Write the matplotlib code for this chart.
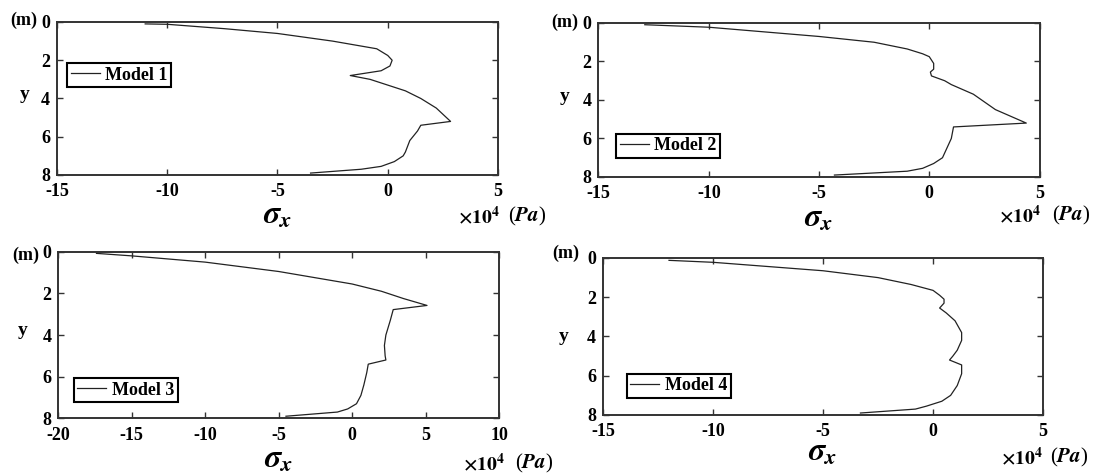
import matplotlib

matplotlib.use("Agg")

import matplotlib.pyplot as plt

# depth (m) and sigma_x (x 1e4 Pa)
Y1 = [0.1, 0.12, 0.35, 0.6, 1.0, 1.4, 1.75, 2.0, 2.3, 2.55, 2.8, 3.0, 3.3, 3.6, 4.0, 4.5, 5.2,
      5.4, 5.7, 6.2, 6.8, 7.0, 7.3, 7.55, 7.7, 7.9]
X1 = [-11.0, -10.0, -7.4, -5.0, -2.5, -0.5, 0.0, 0.2, 0.1, -0.3, -1.7, -0.8, 0.0, 0.8, 1.5, 2.2, 2.85,
      1.5, 1.35, 1.0, 0.8, 0.7, 0.3, -0.3, -1.2, -3.5]

Y2 = [0.09, 0.22, 0.7, 1.0, 1.35, 1.6, 1.75, 2.1, 2.4, 2.55, 2.75, 3.0, 3.2, 3.7, 4.5, 5.0, 5.2,
      5.4, 6.0, 6.5, 7.0, 7.3, 7.55, 7.7, 7.9]
X2 = [-12.9, -10.0, -5.0, -2.5, -1.0, -0.3, 0.0, 0.2, 0.2, 0.05, 0.1, 0.7, 1.0, 2.0, 3.0, 4.0, 4.4,
      1.1, 1.0, 0.8, 0.6, 0.2, -0.3, -1.0, -4.3]

Y3 = [0.08, 0.2, 0.5, 0.95, 1.25, 1.55, 1.9, 2.25, 2.58, 2.78, 3.3, 4.0, 4.5, 5.0, 5.2,
      5.4, 5.8, 6.4, 6.9, 7.3, 7.55, 7.7, 7.9]
X3 = [-17.4, -15.0, -10.0, -5.0, -2.5, 0.0, 2.0, 3.5, 5.1, 2.8, 2.6, 2.3, 2.2, 2.25, 2.3,
      1.1, 1.0, 0.8, 0.6, 0.3, -0.3, -1.0, -4.5]

Y4 = [0.12, 0.22, 0.65, 1.0, 1.35, 1.65, 1.9, 2.1, 2.3, 2.55, 2.8, 3.2, 3.8, 4.2, 4.7, 5.0, 5.2,
      5.45, 5.9, 6.5, 7.0, 7.3, 7.55, 7.7, 7.9]
X4 = [-12.0, -10.0, -5.0, -2.5, -1.0, 0.0, 0.3, 0.5, 0.5, 0.3, 0.6, 1.0, 1.3, 1.3, 1.1, 0.9, 0.75,
      1.3, 1.3, 1.1, 0.8, 0.4, -0.3, -0.8, -3.3]

LABELS = ["Model 1", "Model 2", "Model 3", "Model 4"]
XLIMS = [(-15, 5), (-15, 5), (-20, 10), (-15, 5)]
XTICKS = [[-15, -10, -5, 0, 5], [-15, -10, -5, 0, 5], [-20, -15, -10, -5, 0, 5, 10], [-15, -10, -5, 0, 5]]
YTICKS = [0, 2, 4, 6, 8]

plt.rcParams.update(
    {
        "font.family": ["Liberation Serif", "DejaVu Serif"],
        "font.weight": "bold",
        "mathtext.fontset": "stix",
        "axes.unicode_minus": False,
        "xtick.direction": "in",
        "ytick.direction": "in",
        "xtick.top": True,
        "ytick.right": True,
    }
)

fig = plt.figure(figsize=(11.02, 4.76), dpi=100)

# axes rectangles (figure fraction)
RECTS = [
    (0.0517, 0.6324, 0.4002, 0.3214),
    (0.5431, 0.6282, 0.4002, 0.3235),
    (0.0529, 0.1212, 0.3999, 0.3500),
    (0.5472, 0.1282, 0.3993, 0.3298),
]
LEG = [("upper left", (0.023, 0.732)), ("lower left", (0.040, 0.123)),
       ("lower left", (0.035, 0.096)), ("lower left", (0.054, 0.108))]
# (sigma y, x10 x, x10 y, Pa x, y-label x, y-label y, (m) x, (m) y)
TXT = [
    (-0.27, 0.909, -0.27, 1.023, -0.073, 0.526, -0.075, 1.013),
    (-0.275, 0.908, -0.25, 1.028, -0.076, 0.52, -0.076, 1.006),
    (-0.25, 0.918, -0.27, 1.036, -0.080, 0.53, -0.073, 0.98),
    (-0.24, 0.905, -0.27, 1.016, -0.089, 0.503, -0.084, 1.03),
]

data = [(X1, Y1), (X2, Y2), (X3, Y3), (X4, Y4)]

for i, (xs, ys) in enumerate(data):
    ax = fig.add_axes(RECTS[i])
    ax.plot(xs, ys, color="#222222", linewidth=0.9, label=LABELS[i])
    ax.set_xlim(*XLIMS[i])
    ax.set_ylim(8, 0)
    ax.set_xticks(XTICKS[i])
    ax.set_yticks(YTICKS)
    ax.tick_params(labelsize=13, length=4, width=1.0, color="#333333")
    ax.tick_params(axis="x", pad=6)
    ax.tick_params(axis="y", pad=5)
    for lab in ax.get_xticklabels() + ax.get_yticklabels():
        lab.set_fontweight("bold")
    for s in ax.spines.values():
        s.set_linewidth(1.4)
        s.set_color("#333333")

    loc, anchor = LEG[i]
    leg = ax.legend(loc=loc, bbox_to_anchor=anchor, borderaxespad=0,
                    prop={"size": 13, "weight": "bold"},
                    handlelength=1.6, handletextpad=0.3, borderpad=0.2,
                    fancybox=False, framealpha=1, edgecolor="black")
    leg.get_frame().set_linewidth(1.5)

    sy, tx, ty, px, yx, yy, mx, my = TXT[i]
    ax.text(0.5, sy, r"$\mathbfit{\sigma_x}$", transform=ax.transAxes,
            ha="center", va="center", fontsize=23)
    ax.text(tx, ty, r"$\times10^4$", transform=ax.transAxes,
            ha="left", va="center", fontsize=14)
    ax.text(px, ty, r"($\mathbfit{Pa}$)", transform=ax.transAxes,
            ha="left", va="center", fontsize=15, fontweight="normal")
    ax.text(yx, yy, "y", transform=ax.transAxes, ha="center", va="center",
            fontsize=14, fontweight="bold")
    ax.text(mx, my, "(m)", transform=ax.transAxes, ha="center", va="center",
            fontsize=13, fontweight="bold")

fig.savefig("out.png", dpi=100)
